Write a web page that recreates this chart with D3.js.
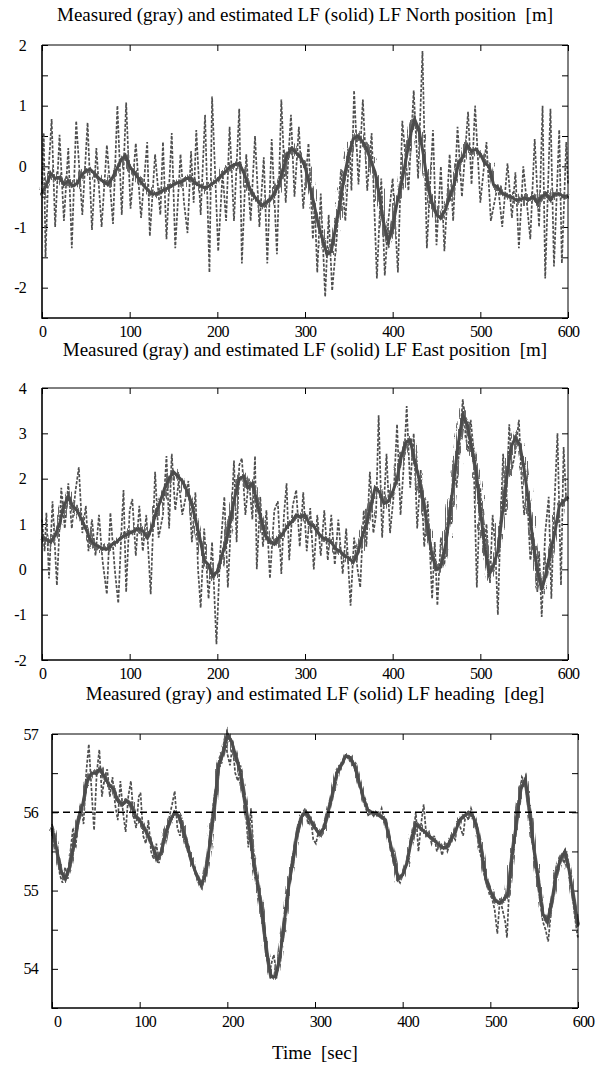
<!DOCTYPE html>
<html><head><meta charset="utf-8">
<script src="https://cdn.jsdelivr.net/npm/d3@7"></script>
<style>
html,body{margin:0;padding:0;background:#fff;}
svg text{font-family:"Liberation Serif","Times New Roman",serif !important;fill:#000;}
</style></head>
<body><svg id="c" width="600" height="1065">
<defs>
  <filter id="fuzz" x="-5%" y="-25%" width="110%" height="150%">
    <feTurbulence type="fractalNoise" baseFrequency="0.9 0.05" numOctaves="2" seed="3" result="n"/>
    <feDisplacementMap in="SourceGraphic" in2="n" scale="15" xChannelSelector="R" yChannelSelector="G"/>
  </filter>
  <filter id="fuzzS" x="-5%" y="-25%" width="110%" height="150%">
    <feTurbulence type="fractalNoise" baseFrequency="0.9 0.05" numOctaves="2" seed="5" result="n"/>
    <feDisplacementMap in="SourceGraphic" in2="n" scale="6" xChannelSelector="R" yChannelSelector="G"/>
  </filter>
</defs>
</svg>
<script>
// ---------- DATA ----------
const titles = [
  "Measured (gray) and estimated LF (solid) LF North position  [m]",
  "Measured (gray) and estimated LF (solid) LF East position  [m]",
  "Measured (gray) and estimated LF (solid) LF heading  [deg]"
];
const xLabel = "Time  [sec]";
const xTicks = [0,100,200,300,400,500,600];
const northTicks = [-2.5,-2,-1.5,-1,-0.5,0,0.5,1,1.5,2];
const eastTicks = [-2,-1,0,1,2,3,4];
const headTicks = [53.5,54,54.5,55,55.5,56,56.5,57];
const headRef = 56;
const lfStep = 5; // estimated series sampled every 5 s, from t = 0

const northLF = [-0.45,-0.3,-0.12,-0.2,-0.18,-0.3,-0.24,-0.32,-0.28,-0.15,-0.07,-0.05,-0.12,-0.2,-0.25,-0.3,-0.2,-0.05,0.1,0.18,
 0.0,-0.1,-0.2,-0.3,-0.38,-0.45,-0.45,-0.42,-0.38,-0.35,-0.3,-0.27,-0.25,-0.2,-0.2,-0.28,-0.32,-0.35,-0.33,-0.28,
 -0.22,-0.15,-0.08,0.0,0.03,0.05,-0.1,-0.3,-0.45,-0.55,-0.65,-0.6,-0.55,-0.45,-0.3,-0.05,0.2,0.3,0.22,0.15,
 0.0,-0.3,-0.6,-0.95,-1.2,-1.45,-1.4,-1.0,-0.6,-0.15,0.2,0.45,0.5,0.42,0.3,0.1,-0.1,-0.5,-0.95,-1.25,
 -1.0,-0.6,-0.3,0.1,0.5,0.78,0.6,0.2,-0.3,-0.6,-0.8,-0.85,-0.72,-0.5,-0.3,0.05,0.15,0.35,0.25,0.28,
 0.2,0.05,0.0,-0.3,-0.35,-0.45,-0.48,-0.5,-0.55,-0.55,-0.52,-0.55,-0.5,-0.6,-0.5,-0.45,-0.55,-0.45,-0.45,-0.5,-0.48];

const northMeas = [[0,-0.3],[2,0.55],[4,-1.5],[7,-0.2],[11,0.78],[15,-1.0],[20,0.52],[25,-0.9],[30,0.3],[34,-1.35],
 [39,0.75],[46,-0.8],[52,0.72],[57,-1.05],[62,0.3],[68,-1.0],[74,0.35],[81,-0.95],[86,1.0],[91,-0.8],[96,1.05],
 [101,-0.7],[107,0.38],[113,-0.85],[120,0.4],[123,-1.15],[129,0.2],[135,-0.8],[138,0.4],[142,-1.2],[148,0.55],
 [152,-1.35],[158,0.2],[162,-0.6],[166,-1.1],[170,0.25],[173,-0.6],[176,0.6],[181,-0.8],[186,0.85],[191,-1.75],
 [194,1.15],[201,-1.4],[206,-0.1],[210,-0.9],[214,0.65],[219,-0.9],[225,0.95],[228,-1.6],[233,0.2],[238,-0.9],
 [243,0.5],[248,-1.0],[253,0.15],[257,-1.6],[262,0.45],[268,-1.45],[273,1.1],[278,-0.6],[284,0.85],[288,-0.5],
 [293,0.65],[298,-0.7],[304,0.38],[309,-1.2],[311,-0.6],[314,-1.75],[318,-0.45],[323,-2.15],[327,-0.8],[331,-2.05],
 [336,-1.2],[341,-0.05],[346,-0.9],[351,0.3],[353,-0.4],[356,1.25],[361,-0.3],[366,1.1],[371,-0.4],[376,0.55],
 [382,-1.85],[387,-0.2],[391,-1.8],[395,-0.9],[400,-0.2],[406,-1.75],[411,0.75],[418,-0.4],[424,1.25],[429,-0.2],
 [434,1.9],[439,-1.35],[446,0.6],[450,-1.3],[455,0.0],[459,-1.4],[465,0.2],[469,-0.9],[474,0.65],[479,-0.5],
 [486,0.9],[490,-0.3],[494,1.0],[500,-0.6],[507,0.4],[512,-0.9],[520,-0.3],[525,-1.0],[531,0.05],[536,-0.85],
 [540,-0.1],[544,-1.35],[549,0.0],[557,-1.2],[562,0.45],[567,-1.0],[571,1.0],[574,-1.85],[580,0.95],[584,-1.65],
 [590,0.6],[593,-1.6],[598,0.4],[600,-0.3]];

const eastLF = [0.7,0.65,0.6,0.75,1.0,1.4,1.6,1.4,1.3,1.1,0.9,0.65,0.55,0.5,0.45,0.45,0.55,0.6,0.7,0.75,
 0.8,0.85,0.9,0.85,0.7,0.9,1.25,1.5,1.8,2.0,2.15,2.05,1.95,1.75,1.5,1.1,0.7,0.2,0.1,-0.15,
 -0.05,0.3,0.6,1.1,1.6,2.0,2.05,1.8,1.9,1.5,1.1,0.75,0.6,0.55,0.7,0.8,0.95,1.05,1.2,1.15,
 1.2,1.0,0.95,0.8,0.7,0.65,0.6,0.45,0.4,0.3,0.25,0.15,0.35,0.7,1.0,1.4,1.8,1.7,1.45,1.5,
 1.7,2.0,2.5,2.8,2.85,2.4,2.0,1.5,0.9,0.3,0.0,0.05,0.5,1.2,2.0,2.8,3.4,3.2,2.7,2.2,
 1.3,0.5,-0.1,0.1,0.4,1.2,2.0,2.7,2.9,2.75,2.2,1.5,0.6,0.0,-0.45,-0.1,0.4,0.8,1.4,1.5,1.6];

const eastMeas = [[0,1.1],[3,0.4],[5,1.25],[8,-0.2],[12,1.5],[17,-0.35],[22,1.8],[26,0.9],[30,1.9],[34,0.9],
 [38,1.7],[42,2.25],[46,0.8],[50,1.4],[53,0.4],[57,1.1],[61,0.3],[65,1.2],[69,0.2],[74,-0.55],[78,1.25],[83,0.0],
 [87,-0.75],[91,1.0],[93,1.75],[96,-0.5],[100,1.3],[103,1.55],[107,0.3],[111,1.4],[115,0.4],[119,1.2],[124,-0.55],
 [129,2.15],[133,0.7],[138,1.2],[142,2.5],[145,0.9],[148,2.55],[152,1.3],[156,1.95],[160,1.2],[164,1.6],[167,1.95],
 [171,0.6],[175,1.7],[178,0.0],[181,-0.85],[185,0.9],[190,-0.65],[194,0.6],[199,-1.65],[203,0.3],[208,1.6],
 [212,-0.4],[216,1.2],[219,2.4],[222,0.6],[225,2.3],[228,2.45],[232,1.2],[236,2.0],[240,1.1],[243,2.5],[245,0.0],
 [249,1.6],[252,0.5],[256,1.3],[260,-0.2],[265,1.3],[269,1.5],[273,-0.1],[276,1.2],[279,1.9],[282,0.2],[286,1.4],
 [290,1.75],[294,0.5],[298,1.7],[302,0.4],[306,1.35],[310,0.0],[314,1.2],[318,0.3],[322,1.3],[326,0.2],[330,1.2],
 [334,0.1],[338,1.1],[343,-0.1],[347,0.9],[352,-0.8],[356,0.7],[360,0.0],[363,-0.4],[367,1.3],[370,0.5],[374,2.15],
 [378,0.8],[381,1.2],[384,3.4],[388,0.7],[393,2.55],[397,0.8],[401,1.6],[405,3.2],[409,1.2],[413,2.4],[416,3.6],
 [420,1.8],[424,3.0],[428,0.9],[432,2.2],[436,0.5],[440,1.5],[445,-0.65],[448,0.6],[451,-0.8],[455,0.7],[459,0.1],
 [463,1.2],[467,1.0],[469,2.4],[473,1.8],[477,3.0],[480,3.75],[483,3.0],[486,2.6],[489,3.3],[492,2.7],[496,-0.4],
 [500,1.8],[504,0.3],[507,1.0],[511,-0.3],[514,1.2],[517,0.5],[520,-1.0],[523,1.0],[526,2.55],[529,1.2],[533,3.2],
 [536,2.2],[540,2.6],[544,3.3],[547,2.0],[550,1.2],[553,1.8],[557,0.2],[561,0.7],[565,-0.5],[567,0.4],[570,-1.05],
 [574,0.8],[578,1.6],[581,-0.65],[584,1.2],[588,3.0],[592,-0.35],[595,2.7],[598,1.5],[600,1.6]];

const headLF = [55.8,55.55,55.25,55.15,55.3,55.6,55.9,56.1,56.4,56.5,56.5,56.55,56.45,56.35,56.3,56.15,56.1,56.15,56.1,55.95,
 55.9,55.8,55.7,55.55,55.4,55.5,55.75,55.9,56.0,55.95,55.75,55.55,55.35,55.2,55.07,55.2,55.6,56.05,56.6,56.75,
 57.0,56.9,56.7,56.5,56.15,55.8,55.35,55.05,54.7,54.2,53.9,53.9,54.15,54.6,55.05,55.4,55.75,55.95,56.0,55.9,
 55.8,55.72,55.8,56.0,56.25,56.5,56.6,56.72,56.7,56.6,56.4,56.2,56.03,56.0,55.98,55.95,55.9,55.65,55.4,55.15,
 55.2,55.35,55.65,55.85,55.8,55.75,55.7,55.65,55.6,55.55,55.55,55.65,55.75,55.9,55.95,56.0,55.95,55.8,55.5,55.15,
 55.0,54.88,54.84,54.88,54.95,55.45,55.9,56.3,56.42,56.0,55.5,55.1,54.7,54.6,54.85,55.2,55.4,55.5,55.25,54.9,54.55];

const headMeas = [[0,55.85],[3,55.7],[6,55.45],[9,55.2],[12,55.1],[15,55.3],[18,55.15],[21,55.5],[24,55.8],[27,55.55],
 [30,55.95],[33,56.1],[36,55.85],[39,56.5],[42,56.87],[45,56.3],[48,55.77],[51,56.5],[54,56.8],[57,56.2],[60,56.45],
 [63,56.55],[66,56.2],[69,56.45],[72,56.1],[75,55.9],[78,56.4],[81,56.0],[84,55.75],[87,56.2],[90,56.4],[93,55.95],
 [96,55.8],[99,56.2],[101,56.25],[104,55.7],[107,55.6],[110,55.9],[113,55.5],[116,55.4],[119,55.6],[122,55.35],
 [125,55.5],[128,55.8],[131,55.7],[134,55.95],[137,56.1],[140,56.27],[143,55.8],[146,55.7],[149,55.9],[152,55.6],
 [155,55.5],[158,55.4],[161,55.3],[164,55.2],[167,55.1],[170,55.1],[173,55.15],[176,55.3],[179,55.5],[182,55.9],
 [185,56.2],[188,56.4],[191,56.7],[194,56.75],[197,56.95],[200,56.75],[203,56.6],[206,56.85],[209,56.5],[212,56.4],
 [215,56.6],[218,56.35],[221,56.0],[224,55.55],[227,56.05],[230,55.5],[233,55.2],[236,55.0],[239,54.85],[242,54.5],
 [245,54.2],[248,53.95],[251,54.1],[253,54.18],[256,53.95],[259,54.1],[262,54.3],[265,54.6],[268,54.95],[271,55.1],
 [274,55.4],[277,55.6],[280,55.7],[283,55.9],[286,56.0],[289,56.05],[292,55.85],[295,55.95],[298,55.65],[301,55.6],
 [304,55.75],[307,55.7],[310,55.85],[313,55.9],[316,56.05],[319,56.2],[322,56.4],[325,56.5],[328,56.6],[331,56.6],
 [334,56.7],[337,56.72],[340,56.65],[343,56.6],[346,56.55],[349,56.4],[352,56.3],[355,56.15],[358,56.05],[361,55.95],
 [364,56.0],[367,55.95],[370,56.0],[373,55.95],[376,56.05],[379,55.9],[382,55.85],[385,55.6],[388,55.45],[391,55.3],
 [394,55.15],[397,55.1],[400,55.2],[403,55.3],[406,55.45],[409,55.6],[412,55.7],[415,56.0],[418,55.5],[421,55.85],
 [424,56.1],[427,55.7],[430,55.75],[433,55.6],[436,55.7],[439,55.5],[442,55.6],[445,55.45],[448,55.6],[451,55.5],
 [454,55.6],[457,55.7],[460,55.65],[463,55.9],[466,55.8],[469,55.7],[472,56.0],[475,55.9],[478,56.05],[481,55.95],
 [484,55.8],[487,55.55],[490,55.4],[493,55.2],[496,55.1],[499,54.95],[502,54.9],[505,54.75],[508,54.45],[511,54.9],
 [514,54.75],[517,54.6],[519,54.4],[521,54.9],[524,55.2],[527,55.6],[530,55.9],[533,56.1],[536,56.45],[539,56.4],
 [542,56.2],[545,55.9],[548,55.6],[551,55.4],[554,55.1],[557,54.85],[560,54.6],[563,54.5],[566,54.35],[569,54.7],
 [572,54.95],[575,55.15],[578,55.35],[581,55.45],[584,55.35],[587,55.5],[590,55.3],[593,55.0],[596,54.7],[599,54.45],[600,54.4]];

// ---------- DRAW ----------
const FONT = '"Liberation Serif","Times New Roman",serif';
const svg = d3.select("#c");

function panel(o) {
  const x = d3.scaleLinear().domain([0,600]).range([o.left,o.right]);
  const y = d3.scaleLinear().domain(o.ydom).range([o.bottom,o.top]);
  const g = svg.append("g");

  g.append("text").attr("x",(o.left+o.right)/2).attr("y",o.titleY)
    .attr("text-anchor","middle").style("font-family",FONT).style("font-size","19px")
    .style("white-space","pre").text(o.title);

  const fmtY = d => Number.isInteger(d) ? String(d) : "";
  const gl = g.append("g").attr("transform",`translate(${o.left},0)`)
    .call(d3.axisLeft(y).tickValues(o.yticks).tickSize(-6).tickSizeOuter(0).tickPadding(o.ypad).tickFormat(fmtY));
  const gr = g.append("g").attr("transform",`translate(${o.right},0)`)
    .call(d3.axisRight(y).tickValues(o.yticks).tickSize(-6).tickSizeOuter(0).tickFormat(""));
  const gb = g.append("g").attr("transform",`translate(0,${o.bottom})`)
    .call(d3.axisBottom(x).tickValues(xTicks).tickSize(-6).tickSizeOuter(0).tickPadding(8).tickFormat(d3.format("d")));
  const gt = g.append("g").attr("transform",`translate(0,${o.top})`)
    .call(d3.axisTop(x).tickValues(xTicks).tickSize(-6).tickSizeOuter(0).tickFormat(""));
  [gl,gr,gb,gt].forEach(a => {
    a.attr("font-family",null).attr("font-size",null);
    a.select(".domain").remove();
    a.selectAll("line").attr("stroke","#000").attr("stroke-width",1);
    a.selectAll("text").style("font-family",FONT).style("font-size","16px").style("letter-spacing","-0.8px");
  });
  gb.selectAll("text").attr("dx",o.xdx);

  // measured (dashed gray)
  g.append("path").datum(o.meas)
    .attr("d", d3.line().x(d=>x(d[0])).y(d=>y(d[1])))
    .attr("fill","none").attr("stroke","#4f4f4f").attr("stroke-width",1.7)
    .attr("stroke-dasharray","3.2,1.6");

  // estimated LF (solid band with a fuzzy fringe)
  const lf = o.lf.map((v,i)=>[i*lfStep, v]);
  const line = d3.line().x(d=>x(d[0])).y(d=>y(d[1]));
  g.append("path").datum(lf).attr("d",line).attr("fill","none")
    .attr("stroke","#666").attr("stroke-width",4).attr("filter",`url(#${o.fuzz})`);
  g.append("path").datum(lf).attr("d",line).attr("fill","none")
    .attr("stroke","#4c4c4c").attr("stroke-width",3);

  if (o.ref !== undefined) {
    g.append("line").attr("x1",o.left).attr("x2",o.right).attr("y1",y(o.ref)).attr("y2",y(o.ref))
      .attr("stroke","#000").attr("stroke-width",1.6).attr("stroke-dasharray","7,4");
  }

  // frame
  g.append("line").attr("x1",o.left).attr("x2",o.right).attr("y1",o.top).attr("y2",o.top).attr("stroke","#000").attr("stroke-width",1);
  g.append("line").attr("x1",o.right).attr("x2",o.right).attr("y1",o.top).attr("y2",o.bottom).attr("stroke","#000").attr("stroke-width",1);
  g.append("line").attr("x1",o.left).attr("x2",o.left).attr("y1",o.top).attr("y2",o.bottom+0.8).attr("stroke","#000").attr("stroke-width",1.6);
  g.append("line").attr("x1",o.left).attr("x2",o.right).attr("y1",o.bottom).attr("y2",o.bottom).attr("stroke","#000").attr("stroke-width",1.6);
  return {x,y};
}

panel({title:titles[0], titleY:21, left:42, right:568, top:45, bottom:318, ydom:[-2.5,2], yticks:northTicks,
  ypad:16, xdx:0, lf:northLF, meas:northMeas, fuzz:"fuzz"});
panel({title:titles[1], titleY:356, left:42, right:568, top:388, bottom:660, ydom:[-2,4], yticks:eastTicks,
  ypad:16, xdx:0, lf:eastLF, meas:eastMeas, fuzz:"fuzz"});
panel({title:titles[2], titleY:700, left:52, right:578, top:734, bottom:1008, ydom:[53.5,57], yticks:headTicks,
  ypad:14, xdx:5, lf:headLF, meas:headMeas, ref:headRef, fuzz:"fuzzS"});

svg.append("text").attr("x",315).attr("y",1059).attr("text-anchor","middle")
  .style("font-family",FONT).style("font-size","19px").style("white-space","pre").text(xLabel);
</script></body></html>
